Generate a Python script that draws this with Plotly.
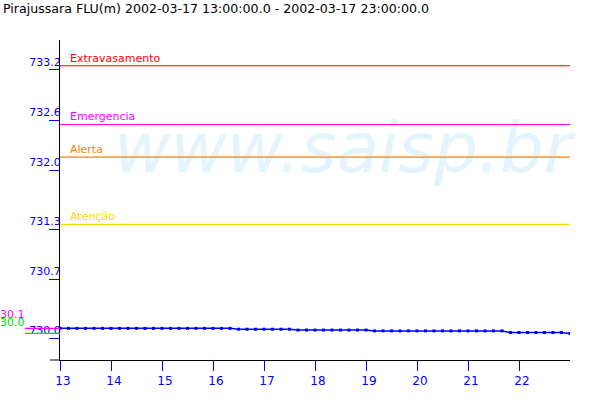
import math
import pandas as pd
import plotly.graph_objects as go

# ---- data ----
title_text = "Pirajussara FLU(m) 2002-03-17 13:00:00.0 - 2002-03-17 23:00:00.0"
times = pd.date_range("2002-03-17 13:00", "2002-03-17 23:00", freq="10min")
levels = (
    [730.12] * 21 +
    [730.11] * 7 +
    [730.10] * 9 +
    [730.09] * 16 +
    [730.07] * 7 +
    [730.06] * 1
)
threshold_names = ["Extravasamento", "Emergencia", "Alerta", "Atenção"]
threshold_values = [733.25, 732.55, 732.16, 731.36]
threshold_colors = ["#ff0000", "#ff00ff", "#ff8000", "#ffd800"]
y_tick_vals = [733.2, 732.6, 732.0, 731.3, 730.7, 730.0]
y_tick_text = ["733.2", "732.6", "732.0", "731.3", "730.7", "730.0"]
x_tick_hours = list(range(13, 23))
x_tick_vals = [pd.Timestamp(f"2002-03-17 {h:02d}:00") for h in x_tick_hours]
x_tick_text = [str(h) for h in x_tick_hours]
y_range = [729.743, 733.557]
x_range = [pd.Timestamp("2002-03-17 13:00"), pd.Timestamp("2002-03-17 23:00")]

FONT = "DejaVu Sans"
BLUE = "#0000ff"

fig = go.Figure()

# watermark (drawn first so lines go over it)
fig.add_trace(go.Scatter(
    x=[pd.Timestamp("2002-03-17 18:33")], y=[732.19], mode="text",
    text=["www.saisp.br"], textposition="middle center",
    textfont=dict(family=FONT, size=69, color="#e3f4fc", style="italic"),
    hoverinfo="skip", showlegend=False, cliponaxis=False,
))

# threshold lines
for name, val, col in zip(threshold_names, threshold_values, threshold_colors):
    fig.add_trace(go.Scatter(
        x=x_range, y=[val, val], mode="lines",
        line=dict(color=col, width=1.2), hoverinfo="skip", showlegend=False,
    ))
    fig.add_annotation(
        x=8 / 510, xref="paper", y=val, yref="y", text=name,
        showarrow=False, xanchor="left", yanchor="bottom",
        font=dict(family=FONT, size=11, color=col), yshift=-1,
    )

# data
fig.add_trace(go.Scatter(
    x=times, y=levels, mode="lines+markers",
    line=dict(color=BLUE, width=1.5),
    marker=dict(color=BLUE, size=3, symbol="square"),
    showlegend=False,
))

# min / max indicators
vmax, vmin = max(levels), min(levels)
for v, col, ys in [(vmax, "#ff00ff", 8), (vmin, "#00dd00", 5)]:
    fig.add_shape(type="line", xref="paper", yref="y",
                  x0=-35 / 510, x1=0, y0=v, y1=v,
                  line=dict(color=col, width=1.2))
    fig.add_annotation(
        x=-35 / 510, xref="paper", y=v, yref="y",
        text=f"{math.floor(v * 10) / 10:.1f}", showarrow=False,
        xanchor="right", yanchor="bottom", xshift=2, yshift=ys - 3,
        font=dict(family=FONT, size=11, color=col),
    )

# x axis line extension to the left
fig.add_shape(type="line", xref="paper", yref="paper",
              x0=-10 / 510, x1=0, y0=0, y1=0,
              line=dict(color="black", width=1))

fig.update_layout(
    width=600, height=400,
    margin=dict(l=60, r=30, t=40, b=40),
    paper_bgcolor="white", plot_bgcolor="white",
    font=dict(family=FONT, size=11, color="black"),
    title=dict(text=title_text, x=0.005, xanchor="left", xref="container",
               y=1 - 9 / 400, yanchor="middle", yref="container",
               font=dict(family=FONT, size=12.6, color="black")),
    xaxis=dict(
        range=x_range, tickvals=x_tick_vals, ticktext=x_tick_text,
        showgrid=False, zeroline=False, showline=True, linecolor="black",
        linewidth=1, ticks="outside", ticklen=10, tickcolor=BLUE,
        tickfont=dict(family=FONT, size=12, color=BLUE), ticklabelshift=3,
        automargin=False,
    ),
    yaxis=dict(
        range=y_range, tickvals=y_tick_vals, ticktext=y_tick_text,
        showgrid=False, zeroline=False, showline=True, linecolor="black",
        linewidth=1, ticks="outside", ticklen=10, tickcolor=BLUE,
        tickfont=dict(family=FONT, size=11, color=BLUE),
        ticklabelposition="outside top", ticklabelstandoff=-4,
        automargin=False,
    ),
)

fig.write_html(
    "out.html",
    config={"displayModeBar": False},
    post_script="document.body.style.margin='0';document.body.style.padding='0';",
)
